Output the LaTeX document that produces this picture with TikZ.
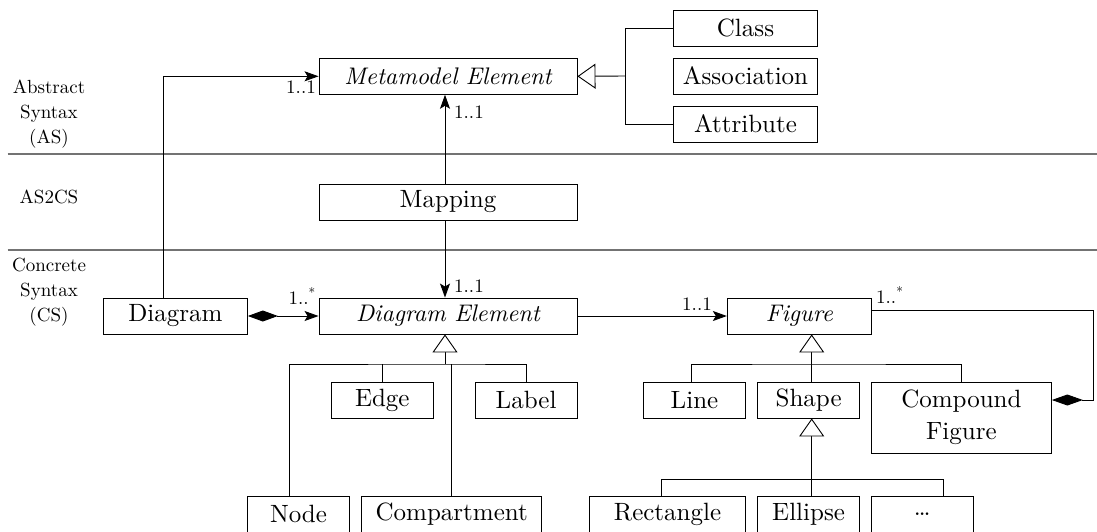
\documentclass[tikz,border=0pt]{standalone}
\usepackage{fontspec}
\setmainfont{lmroman10-regular.otf}[ItalicFont=lmroman10-italic.otf,BoldFont=lmroman10-bold.otf]
\usetikzlibrary{arrows.meta}
\begin{document}
\begin{tikzpicture}[x=1pt,y=-1pt,
  box/.style={draw,line width=0.9pt,inner sep=0pt,minimum height=36pt,
    font=\fontsize{25}{32}\selectfont,align=center},
  it/.style={font=\fontsize{24}{32}\selectfont\itshape},
  lbl/.style={inner sep=0pt,font=\fontsize{19}{25}\selectfont,align=center},
  mult/.style={inner sep=0pt,font=\fontsize{19}{22}\selectfont},
  conn/.style={line width=0.9pt},
  nav/.style={conn,-{Stealth[length=14pt,width=10pt,inset=3pt]}},
  genarrow/.style={conn,-{Triangle[open,length=18pt,width=25pt,fill=white]}},
  sep/.style={line width=1.4pt,black!55}]
\useasboundingbox (0,0) rectangle (1097,531);
\clip (0,0) rectangle (1097,531);

% separators
\draw[sep] (7.7,154) -- (1097,154);
\draw[sep] (7.7,250) -- (1097,250);

% layer labels
\node[lbl] (lAS) at (49,114) {Abstract\\Syntax\\(AS)};
\node[lbl] (lMap) at (49,197) {AS2CS};
\node[lbl] (lCS) at (49,292) {Concrete\\Syntax\\(CS)};

% boxes
\node[box,it,minimum width=258pt] (MM) at (448,76.3) {Metamodel Element};
\node[box,minimum width=144pt] (Class) at (745.5,28) {Class};
\node[box,minimum width=144pt] (Assoc) at (745.5,76) {Association};
\node[box,minimum width=144pt] (Attr) at (745.5,124) {Attribute};
\node[box,minimum width=258pt] (Mapping) at (448,202) {Mapping};
\node[box,minimum width=144pt] (Diagram) at (175.4,316) {Diagram};
\node[box,it,minimum width=258pt] (DE) at (448,316) {Diagram Element};
\node[box,it,minimum width=144pt] (Figure) at (799.3,316) {Figure};
\node[box,minimum width=102pt] (Edge) at (382.3,400) {Edge};
\node[box,minimum width=102pt] (Label) at (526.1,400) {Label};
\node[box,minimum width=102pt] (Line) at (694.5,400) {Line};
\node[box,minimum width=102pt] (Shape) at (808.6,400) {Shape};
\node[box,minimum width=180pt,minimum height=71.3pt] (Compound) at (961.4,417.7) {Compound\\Figure};
\node[box,minimum width=102pt] (Node) at (298.5,514) {Node};
\node[box,minimum width=180pt] (Compartment) at (451.7,514) {Compartment};
\node[box,minimum width=156pt] (Rect) at (667.5,514) {Rectangle};
\node[box,minimum width=102pt] (Ellipse) at (808.6,514) {Ellipse};
\node[box,minimum width=102pt] (Dots) at (922.3,514) {\dots};

% generalization of Metamodel Element
\coordinate (jMM) at (625.4,76);
\draw[genarrow] (jMM) -- (MM.east);
\draw[conn] (Class.west) -| (jMM);
\draw[conn] (Attr.west) -| (jMM);

% associations
\draw[nav] ([xshift=-12pt]Diagram.north) |- (MM.west);
\draw[nav] ([xshift=-3pt]Mapping.north) -- ([xshift=-3pt]MM.south);
\draw[nav] ([xshift=-3pt]Mapping.south) -- ([xshift=-3pt]DE.north);
\draw[conn,{Diamond[length=30pt,width=11pt]}-{Stealth[length=14pt,width=10pt,inset=3pt]}] (Diagram.east) -- (DE.west);
\draw[nav] (DE.east) -- (Figure.west);
\coordinate (cR) at (1093.2,310);
\draw[conn,{Diamond[length=31pt,width=11pt]}-] ([yshift=17.7pt]Compound.east) -| (cR) -- ([yshift=6pt]Figure.east);

% generalization of Diagram Element
\coordinate (jDE) at (445,364);
\draw[genarrow] (jDE) -- (jDE |- DE.south);
\draw[conn] ([xshift=-9pt]Node.north) |- (jDE) -| (Label.north);
\draw[conn] (Edge.north) -- (Edge.north |- jDE);
\draw[conn] (Compartment.north) -- (Compartment.north |- jDE);

% generalization of Figure
\coordinate (jFig) at (811.7,364);
\draw[genarrow] (jFig) -- (jFig |- Figure.south);
\draw[conn] ([xshift=-3.2pt]Line.north) |- (jFig) -| (Compound.north);
\draw[conn] (jFig) -- (jFig |- Shape.north);

% generalization of Shape
\coordinate (jSh) at (811.7,479);
\draw[genarrow] (jSh) -- (jSh |- Shape.south);
\draw[conn] (jSh) -- (jSh |- Ellipse.north);
\draw[conn] ([xshift=-5.9pt]Rect.north) |- (jSh) -| ([xshift=21.2pt]Dots.north);

% multiplicities
\node[mult,anchor=base east] (m1) at (316,93) {1..1};
\node[mult,anchor=base west] (m2) at (454,118) {1..1};
\node[mult,anchor=base west] (m3) at (454,292) {1..1};
\node[mult,anchor=base east] (m4) at (316,304) {1..\textsuperscript{*}};
\node[mult,anchor=base east] (m5) at (712,310) {1..1};
\node[mult,anchor=base west] (m6) at (876,303) {1..\textsuperscript{*}};
\end{tikzpicture}
\end{document}
